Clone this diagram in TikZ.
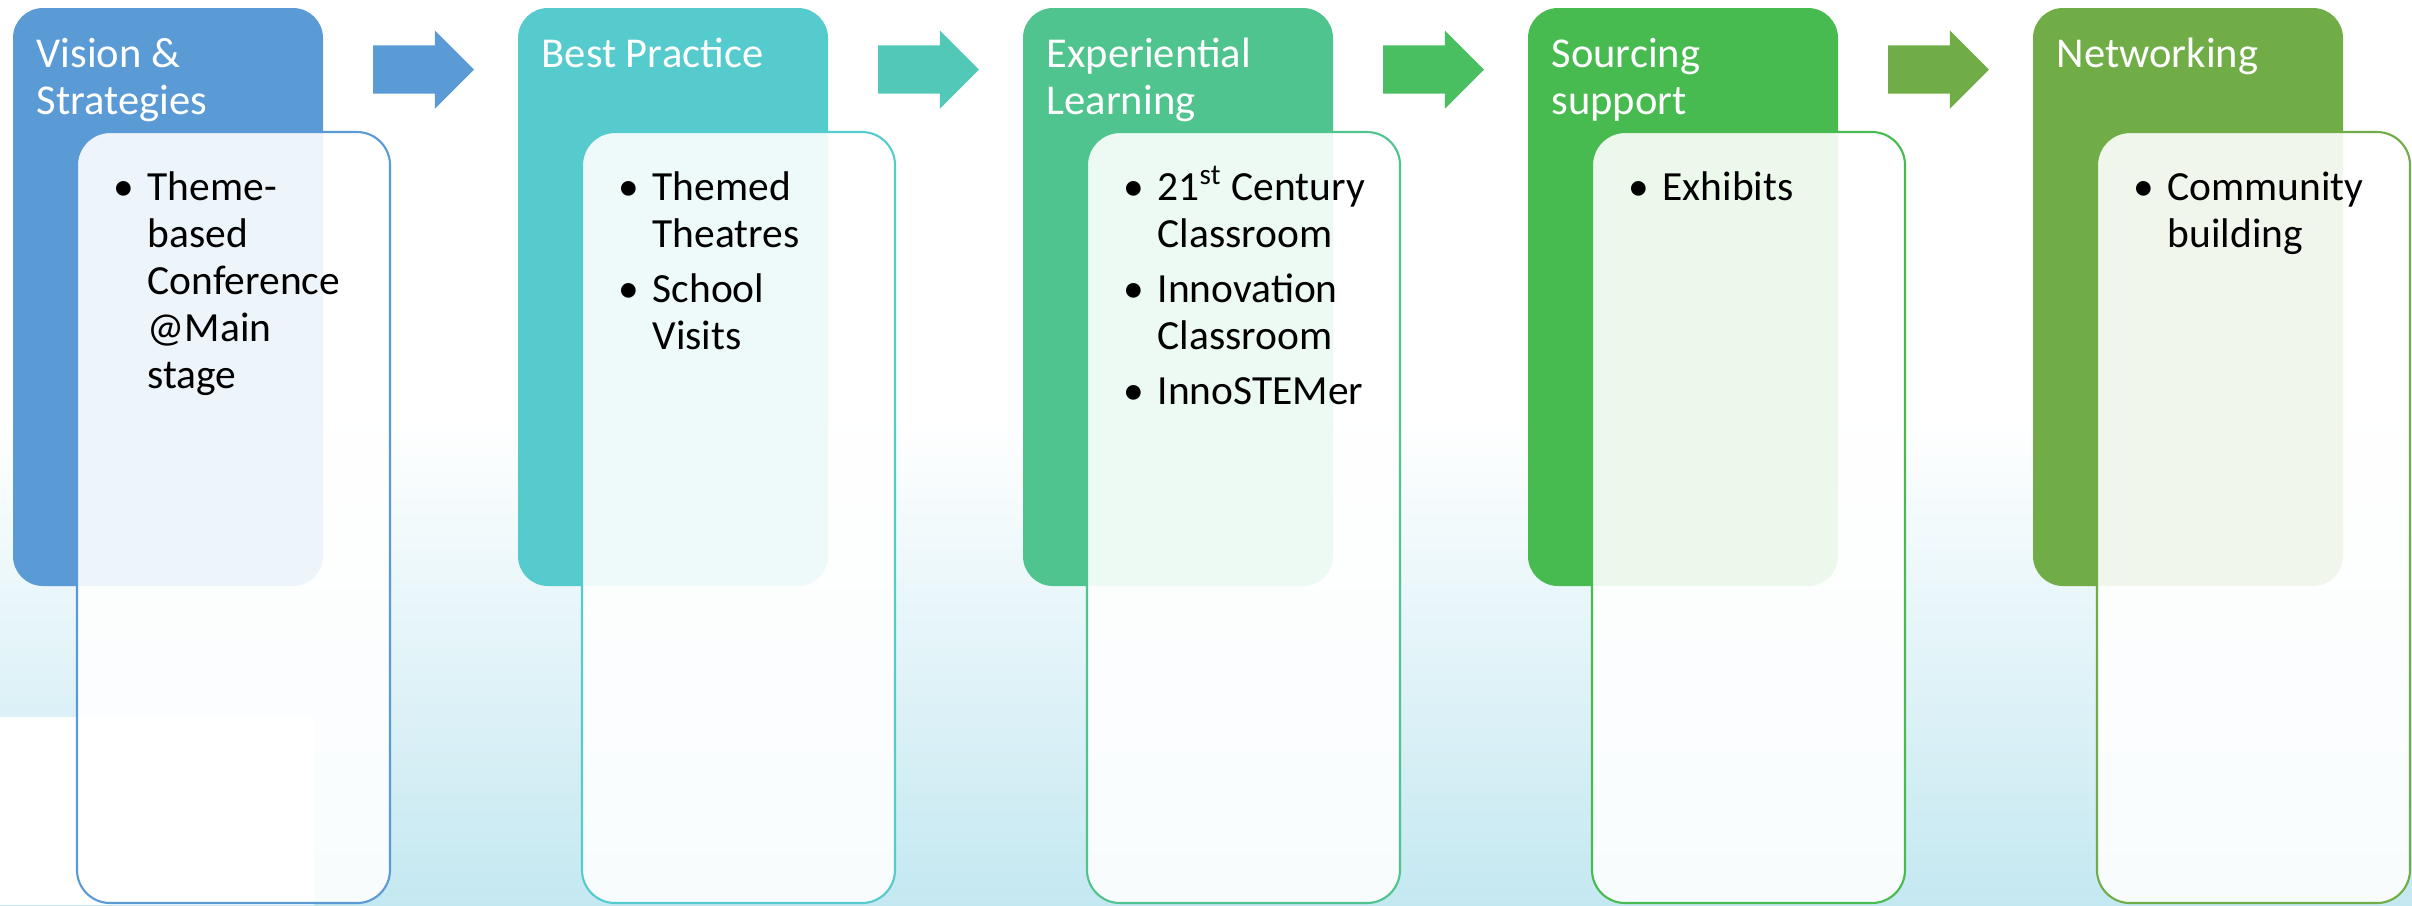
\documentclass[tikz,border=0pt]{standalone}
\usepackage{fontspec}
\setmainfont{Carlito}
\usepackage{tikz}
\usetikzlibrary{shapes,arrows}
\usetikzlibrary{positioning}
\usetikzlibrary{calc}
\setlength{\parindent}{0pt}
\definecolor{myblue}{RGB}{91,155,213}
\definecolor{myteal}{RGB}{85,203,205}
\definecolor{myjade}{RGB}{79,196,142}
\definecolor{mygreen}{RGB}{72,187,80}
\definecolor{myolive}{RGB}{112,173,71}
\definecolor{myaqua}{RGB}{82,201,184}
\definecolor{mylime}{RGB}{74,191,98}
\definecolor{mysky}{RGB}{196,232,241}
\newcommand\myleft{\rightskip=0pt plus 1fil\parfillskip=0pt plus 1fil\spaceskip=\fontdimen2\font\relax}
\newcommand\myitem[1]{\myleft\leftskip=0.34cm\noindent\llap{\makebox[0.34cm][l]{\textbullet}}#1\par}
\newcommand\mystage[5]{%
  \node[myhead,fill=#3] (#2) at (#1,-0.08) {};
  \node[mytitle] (#2-title) at ($(#2.north west)+(0.23,-0.59)$) {\myleft #4};
  \node[mybody,draw=#3] (#2-body) at ($(#2.north west)+(0.64,-1.24)$) {};
  \node[mylist] (#2-list) at ($(#2-body.north west)+(0.36,-0.68)$) {#5};
}

\begin{document}
\begin{tikzpicture}[>=latex,
myhead/.style={
  rectangle,
  rounded corners=0.3cm,
  anchor=north west,
  minimum width=3.1cm,
  minimum height=5.78cm,
  inner sep=0, outer sep=0},
mybody/.style={
  rectangle,
  rounded corners=0.33cm,
  anchor=north west,
  fill=white, fill opacity=0.9,
  line width=0.6pt,
  minimum width=3.13cm,
  minimum height=7.71cm,
  inner sep=0, outer sep=0},
mytitle/.style={
  anchor=base west,
  text width=2.85cm,
  inner sep=0,
  text=white,
  font=\fontsize{12.1}{13.4}\selectfont},
mylist/.style={
  anchor=base west,
  text width=2.7cm,
  inner sep=0,
  font={\fontsize{11.8}{13.4}\selectfont\setlength{\parskip}{0.08cm}}},
myarrow/.style={
  single arrow,
  anchor=tail,
  minimum height=1.01cm,
  single arrow head extend=0.15cm,
  inner xsep=0, inner ysep=0.235cm, outer sep=0}
]
\useasboundingbox (0,0) rectangle (24.12,-9.05);
% background
\fill[white] (0,0) rectangle (24.12,-9.05);
\shade[top color=white, bottom color=mysky] (0,-4.2) rectangle (24.12,-9.05);
\fill[white] (0,-7.17) rectangle (3.14,-9.05);

\mystage{0.13}{vision}{myblue}{Vision \&\\Strategies}{\myitem{Theme-\\based\\Conference\\@Main\\stage}}
\mystage{5.18}{practice}{myteal}{Best Practice}{\myitem{Themed\\Theatres}\myitem{School\\Visits}}
\mystage{10.23}{learning}{myjade}{Experiential\\Learning}{\myitem{21\textsuperscript{st} Century\\Classroom}\myitem{Innovation\\Classroom}\myitem{InnoSTEMer}}
\mystage{15.28}{sourcing}{mygreen}{Sourcing\\support}{\myitem{Exhibits}}
\mystage{20.33}{network}{myolive}{Networking}{\myitem{Community\\building}}

\node[myarrow,fill=myblue] (arrow1) at ($(vision.north east)+(0.5,-0.615)$) {};
\node[myarrow,fill=myaqua] (arrow2) at ($(practice.north east)+(0.5,-0.615)$) {};
\node[myarrow,fill=mylime] (arrow3) at ($(learning.north east)+(0.5,-0.615)$) {};
\node[myarrow,fill=myolive] (arrow4) at ($(sourcing.north east)+(0.5,-0.615)$) {};

\end{tikzpicture}
\end{document}
